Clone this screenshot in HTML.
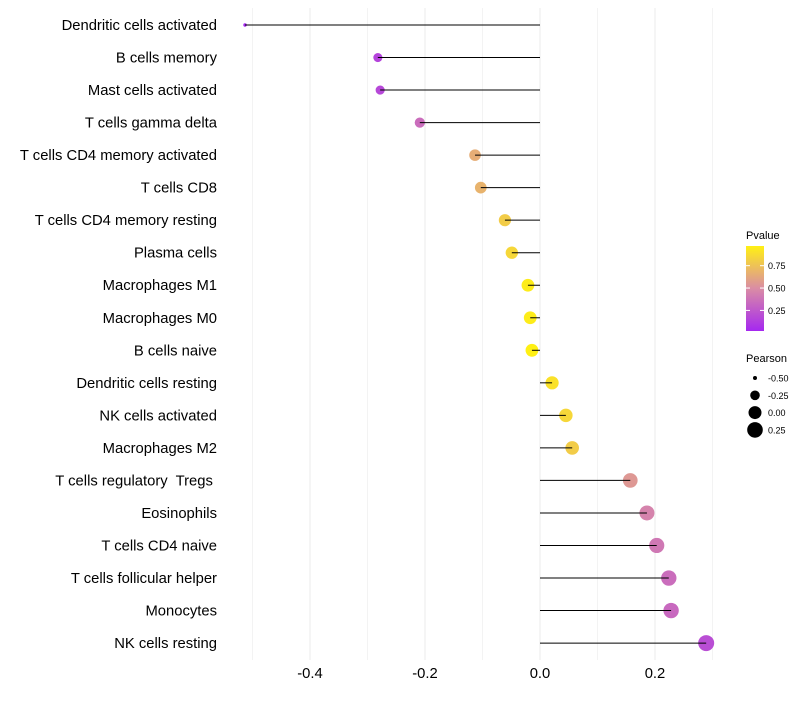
<!DOCTYPE html>
<html><head><meta charset="utf-8"><style>
body{margin:0;background:#fff;font-family:"Liberation Sans",sans-serif}
text{white-space:pre}
</style></head><body>
<svg id="chart" width="800" height="700" xmlns="http://www.w3.org/2000/svg" font-family="Liberation Sans, sans-serif"></svg>
<script>
const categories=["Dendritic cells activated","B cells memory","Mast cells activated","T cells gamma delta","T cells CD4 memory activated","T cells CD8","T cells CD4 memory resting","Plasma cells","Macrophages M1","Macrophages M0","B cells naive","Dendritic cells resting","NK cells activated","Macrophages M2","T cells regulatory  Tregs ","Eosinophils","T cells CD4 naive","T cells follicular helper","Monocytes","NK cells resting"];
const pearson=[-0.513,-0.282,-0.278,-0.209,-0.113,-0.103,-0.061,-0.049,-0.021,-0.017,-0.014,0.021,0.045,0.056,0.157,0.186,0.203,0.224,0.228,0.289];
const pvalues=[0.02,0.15,0.17,0.35,0.65,0.68,0.8,0.85,0.95,0.95,0.97,0.9,0.85,0.8,0.55,0.45,0.4,0.35,0.33,0.2];
const xTicks=[-0.4,-0.2,0.0,0.2];
const xTickLabels=["-0.4","-0.2","0.0","0.2"];
const sizeLegend=[-0.5,-0.25,0.0,0.25];
const sizeLegendLabels=["-0.50","-0.25","0.00","0.25"];
const colorLegend=[0.25,0.5,0.75];
const colorLegendLabels=["0.25","0.50","0.75"];

const svg=document.getElementById('chart');
const NS="http://www.w3.org/2000/svg";
function mk(t,a,p){const e=document.createElementNS(NS,t);for(const k in a)e.setAttribute(k,a[k]);(p||svg).appendChild(e);return e;}
const x=v=>540+v*575;
const y=i=>25+i*32.53;
function lerp(a,b,t){return a.map((c,i)=>Math.round(c+(b[i]-c)*t));}
function col(p){const t=Math.max(0,Math.min(1,(p-0.02)/(0.97-0.02)));const c0=[165,40,240],c1=[218,140,165],c2=[255,240,20];const c=t<0.5?lerp(c0,c1,t*2):lerp(c1,c2,(t-0.5)*2);return `rgb(${c})`;}
const smin=-0.513,smax=0.289;
function rad(v){const t=(v-smin)/(smax-smin);return Math.sqrt(3+t*(64-3));}

const grid=mk('g',{});


for(let v=-0.5;v<=0.31;v+=0.1){mk('line',{x1:x(v),x2:x(v),y1:8,y2:660,stroke:'#ebebeb','stroke-width':Math.abs(Math.round(v*10))%2===0?1:0.6},grid);}
categories.forEach((c,i)=>{const t=mk('text',{x:217,y:y(i)+5,'text-anchor':'end','font-size':14.8,fill:'#000'});t.textContent=c;

});
xTicks.forEach((v,i)=>{const t=mk('text',{x:x(v),y:678,'text-anchor':'middle','font-size':14.8,fill:'#000'});t.textContent=xTickLabels[i];

});
categories.forEach((c,i)=>{
const d=mk('circle',{cx:x(pearson[i]),cy:y(i),r:rad(pearson[i]),fill:col(pvalues[i])});


const l=mk('line',{x1:x(0),x2:x(pearson[i]),y1:y(i),y2:y(i),stroke:'#000','stroke-width':1});


});
const defs=mk('defs',{});
const g=mk('linearGradient',{id:'pg',x1:0,y1:1,x2:0,y2:0},defs);
for(let k=0;k<=10;k++){mk('stop',{offset:k/10,'stop-color':col(0.02+k/10*0.95)},g);}
let t=mk('text',{x:746,y:239,'font-size':11});t.textContent='Pvalue';


const bar=mk('rect',{x:746,y:246,width:18,height:85,fill:'url(#pg)'});


const cy=p=>331-(p-0.02)/(0.95)*85;
colorLegend.forEach((p,i)=>{mk('line',{x1:746,x2:750,y1:cy(p),y2:cy(p),stroke:'#fff'});mk('line',{x1:760,x2:764,y1:cy(p),y2:cy(p),stroke:'#fff'});
const tt=mk('text',{x:768,y:cy(p)+3.5,'font-size':9});tt.textContent=colorLegendLabels[i];

});
t=mk('text',{x:746,y:362,'font-size':11});t.textContent='Pearson';


sizeLegend.forEach((v,i)=>{const yy=378+i*17.3;mk('circle',{cx:755,cy:yy,r:rad(v),fill:'#000'});
const tt=mk('text',{x:768,y:yy+3.5,'font-size':9});tt.textContent=sizeLegendLabels[i];

});
</script>
</body></html>
